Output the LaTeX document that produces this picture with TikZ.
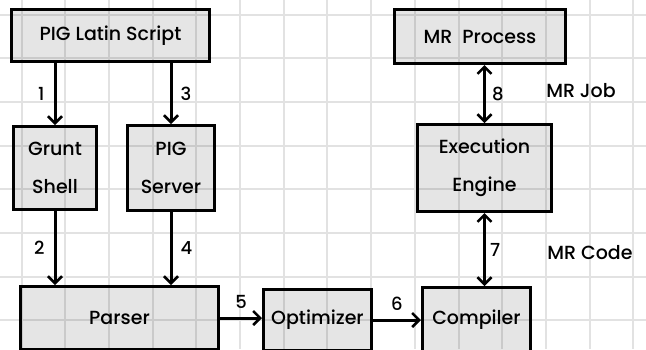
\documentclass[tikz,border=0pt]{standalone}
\usepackage{fontspec}
\setmainfont{Poppins}[UprightFont={* Medium}]
\usetikzlibrary{positioning, arrows.meta, calc}
\definecolor{gridgray}{HTML}{E2E2E2}

\begin{document}
\begin{tikzpicture}[
  x=1pt, y=-1pt,
  box/.style={rectangle, draw, line width=3pt, fill=black, fill opacity=0.1, text opacity=1, font=\fontsize{19}{38}\selectfont, align=center, inner sep=0pt},
  arr/.style={-{Straight Barb[length=7pt, width=14pt, line width=2.5pt]}, line width=3pt},
  dbl/.style={{Straight Barb[length=7pt, width=14pt, line width=2.5pt]}-{Straight Barb[length=7pt, width=14pt, line width=2.5pt]}, line width=3pt},
  lbl/.style={font=\fontsize{18}{18}\selectfont, inner sep=1pt},
]
  \useasboundingbox (0,0) rectangle (646,349);
  \clip (0,0) rectangle (646,349);
  \fill[white] (0,0) rectangle (646,349);
  \foreach \i in {0,...,14}
    \draw[gridgray, line width=2pt] ({21.5+43.7*\i},0) -- ({21.5+43.7*\i},349);
  \foreach \j in {0,...,7}
    \draw[gridgray, line width=2pt] (0,{14.5+43.7*\j}) -- (646,{14.5+43.7*\j});

  \node[box, minimum width=198pt, minimum height=52pt] (script) at (110.5, 35.5) {PIG Latin Script};
  \node[box, minimum width=83pt, minimum height=83pt] (grunt) at (55, 168) {Grunt\\Shell};
  \node[box, minimum width=87pt, minimum height=85pt] (server) at (171, 168) {PIG\\Server};
  \node[box, minimum width=198pt, minimum height=63pt] (parser) at (119.5, 318) {Parser};
  \node[box, minimum width=108pt, minimum height=61pt] (optimizer) at (317.5, 320) {Optimizer};
  \node[box, minimum width=108pt, minimum height=65pt] (compiler) at (476.5, 320) {Compiler};
  \node[box, minimum width=171pt, minimum height=54pt] (process) at (480, 36.5) {MR\ \ Process};
  \node[box, minimum width=134pt, minimum height=87pt] (engine) at (484.5, 168) {Execution\\Engine};

  \draw[arr] (script.south -| grunt.north) -- node[lbl, left=8pt] (n1) {1} (grunt.north);
  \draw[arr] (script.south -| server.north) -- node[lbl, right=7pt] (n3) {3} (server.north);
  \draw[arr] (grunt.south) -- node[lbl, left=8pt] (n2) {2} (grunt.south |- parser.north);
  \draw[arr] (server.south) -- node[lbl, right=7pt] (n4) {4} (server.south |- parser.north);
  \draw[arr] (parser.east) -- node[lbl, above=7pt] (n5) {5} (parser.east -| optimizer.west);
  \draw[arr] (optimizer.east) -- node[lbl, above=7pt] (n6) {6} (optimizer.east -| compiler.west);
  \draw[dbl] (engine.south) -- node[lbl, right=3pt] (n7) {7} (engine.south |- compiler.north);
  \draw[dbl] (process.south -| engine.north) -- node[lbl, right=5pt] (n8) {8} (engine.north);

  \node[lbl, font=\fontsize{19}{19}\selectfont] (mrjob) at (581, 91) {MR Job};
  \node[lbl, font=\fontsize{19}{19}\selectfont] (mrcode) at (590, 253) {MR Code};
\end{tikzpicture}
\end{document}
